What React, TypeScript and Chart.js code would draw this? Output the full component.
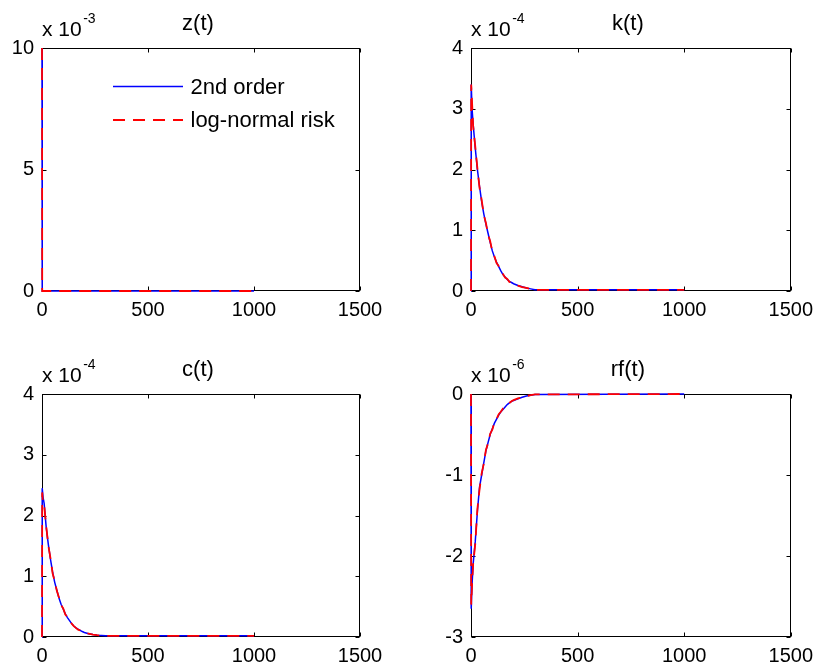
import React, { useEffect, useRef } from "react";
import { Chart, registerables } from "chart.js";

Chart.register(...registerables);

const FAM = '"Liberation Sans", Arial, Helvetica, sans-serif';

// time axis (periods)
const T = [0, 1, 5, 10, 20, 30, 40, 50, 60, 70, 80, 90, 100, 110, 120, 130, 140, 150, 160, 170, 180, 190, 200, 220, 240, 260, 280, 300, 1000];

const SERIES_NAMES = ["2nd order", "log-normal risk"];

// z(t), units of 1e-3
const Z_2ND = [10, 0, 0, 0, 0, 0, 0, 0, 0, 0, 0, 0, 0, 0, 0, 0, 0, 0, 0, 0, 0, 0, 0, 0, 0, 0, 0, 0, 0];
const Z_LOGN = [10, 0, 0, 0, 0, 0, 0, 0, 0, 0, 0, 0, 0, 0, 0, 0, 0, 0, 0, 0, 0, 0, 0, 0, 0, 0, 0, 0, 0];

// k(t), units of 1e-4
const K_2ND = [0, 3.4, 3.0, 2.75, 2.35, 2.0, 1.72, 1.47, 1.27, 1.1, 0.95, 0.8, 0.66, 0.56, 0.47, 0.4, 0.33, 0.27, 0.23, 0.19, 0.16, 0.14, 0.12, 0.09, 0.07, 0.05, 0.035, 0.02, 0.02];
const K_LOGN = [0, 3.4, 3.1, 2.72, 2.38, 2.02, 1.7, 1.5, 1.25, 1.12, 0.93, 0.82, 0.65, 0.57, 0.46, 0.41, 0.32, 0.28, 0.22, 0.2, 0.15, 0.14, 0.11, 0.09, 0.065, 0.05, 0.03, 0.02, 0.02];

// c(t), units of 1e-4
const C_2ND = [0, 2.45, 2.3, 2.2, 1.8, 1.52, 1.28, 1.07, 0.9, 0.77, 0.64, 0.54, 0.46, 0.38, 0.32, 0.27, 0.22, 0.18, 0.15, 0.13, 0.11, 0.09, 0.075, 0.055, 0.04, 0.03, 0.025, 0.02, 0.02];
const C_LOGN = [0, 2.38, 2.2, 2.18, 1.82, 1.5, 1.3, 1.05, 0.92, 0.76, 0.65, 0.53, 0.47, 0.37, 0.33, 0.26, 0.22, 0.18, 0.15, 0.12, 0.11, 0.09, 0.07, 0.055, 0.04, 0.03, 0.025, 0.02, 0.02];

// rf(t), units of 1e-6
const RF_2ND = [0, -2.65, -2.35, -2.1, -1.82, -1.45, -1.15, -1.0, -0.85, -0.7, -0.6, -0.5, -0.43, -0.36, -0.31, -0.26, -0.22, -0.19, -0.16, -0.13, -0.11, -0.09, -0.08, -0.06, -0.04, -0.025, -0.015, -0.005, 0];
const RF_LOGN = [0, -2.6, -2.35, -2.1, -1.85, -1.42, -1.18, -0.98, -0.86, -0.69, -0.61, -0.49, -0.44, -0.35, -0.31, -0.25, -0.22, -0.18, -0.16, -0.13, -0.11, -0.09, -0.075, -0.055, -0.04, -0.025, -0.015, -0.005, 0];

const X_TICKS = [0, 500, 1000, 1500];

type PanelDef = {
  title: string;
  exp: string;
  a: number[];
  b: number[];
  ymin: number;
  ymax: number;
  ystep: number;
  legend: boolean;
  left: number;
  top: number;
  L: number;
  TOP: number;
  R: number;
  B: number;
};

const W = 410;
const H = 336;

const PANELS: PanelDef[] = [
  { title: "z(t)", exp: "-3", a: Z_2ND, b: Z_LOGN, ymin: 0, ymax: 10, ystep: 5, legend: true, left: 0, top: 0, L: 42, TOP: 48, R: 360, B: 291 },
  { title: "k(t)", exp: "-4", a: K_2ND, b: K_LOGN, ymin: 0, ymax: 4, ystep: 1, legend: false, left: 410, top: 0, L: 61, TOP: 48, R: 381, B: 291 },
  { title: "c(t)", exp: "-4", a: C_2ND, b: C_LOGN, ymin: 0, ymax: 4, ystep: 1, legend: false, left: 0, top: 336, L: 42, TOP: 58, R: 360, B: 301 },
  { title: "rf(t)", exp: "-6", a: RF_2ND, b: RF_LOGN, ymin: -3, ymax: 0, ystep: 1, legend: false, left: 410, top: 336, L: 61, TOP: 58, R: 381, B: 301 },
];

const RED_DASH = [12, 8];

const matlabPlugin = {
  id: "matlab",
  beforeDatasetsDraw(chart: any) {
    const { ctx, chartArea: a, scales } = chart;
    ctx.save();
    ctx.strokeStyle = "#000";
    ctx.lineWidth = 1;
    const l = Math.round(a.left) + 0.5;
    const r = Math.round(a.right) - 0.5;
    const t = Math.round(a.top) + 0.5;
    const b = Math.round(a.bottom) - 0.5;
    ctx.strokeRect(l, t, r - l, b - t);
    const tl = 4;
    ctx.beginPath();
    scales.x.ticks.forEach((tk: any) => {
      const px = Math.round(scales.x.getPixelForValue(tk.value)) + 0.5;
      ctx.moveTo(px, b);
      ctx.lineTo(px, b - tl);
      ctx.moveTo(px, t);
      ctx.lineTo(px, t + tl);
    });
    scales.y.ticks.forEach((tk: any) => {
      const py = Math.round(scales.y.getPixelForValue(tk.value)) + 0.5;
      ctx.moveTo(l, py);
      ctx.lineTo(l + tl, py);
      ctx.moveTo(r, py);
      ctx.lineTo(r - tl, py);
    });
    ctx.stroke();
    ctx.restore();
  },
  afterDraw(chart: any, _args: any, o: any) {
    const { ctx, chartArea: a } = chart;
    ctx.save();
    ctx.fillStyle = "#000";
    ctx.textBaseline = "alphabetic";
    ctx.font = `22px ${FAM}`;
    ctx.textAlign = "center";
    ctx.fillText(o.title, (a.left + a.right) / 2 - 3, a.top - 18.5);
    ctx.textAlign = "left";
    ctx.font = `21px ${FAM}`;
    const base = "x 10";
    ctx.fillText(base, a.left, a.top - 12);
    const w = ctx.measureText(base).width;
    ctx.font = `14px ${FAM}`;
    ctx.fillText(o.exp, a.left + w + 1.5, a.top - 25);
    if (o.legend) {
      const ds = chart.data.datasets;
      const rows = [a.top + 38.5, a.top + 72];
      ds.forEach((d: any, i: number) => {
        const y = rows[i];
        ctx.save();
        ctx.strokeStyle = d.borderColor;
        ctx.lineWidth = d.borderWidth;
        ctx.setLineDash(d.borderDash || []);
        ctx.beginPath();
        ctx.moveTo(a.left + 71, y);
        ctx.lineTo(a.left + 141, y);
        ctx.stroke();
        ctx.restore();
        ctx.font = `22px ${FAM}`;
        ctx.textBaseline = "middle";
        ctx.textAlign = "left";
        ctx.fillStyle = "#000";
        ctx.fillText(d.label, a.left + 148.5, y + 1);
      });
    }
    ctx.restore();
  },
};

function makeConfig(p: PanelDef): any {
  const pts = (vals: number[]) => T.map((t, i) => ({ x: t, y: vals[i] }));
  return {
    type: "line",
    data: {
      datasets: [
        {
          label: SERIES_NAMES[0],
          data: pts(p.a),
          borderColor: "#0000ff",
          borderWidth: 1.5,
          pointRadius: 0,
          tension: 0,
          fill: false,
          clip: false,
          order: 1,
        },
        {
          label: SERIES_NAMES[1],
          data: pts(p.b),
          borderColor: "#ff0000",
          borderWidth: 1.8,
          borderDash: RED_DASH,
          pointRadius: 0,
          tension: 0,
          fill: false,
          clip: false,
          order: 0,
        },
      ],
    },
    options: {
      responsive: false,
      animation: false,
      devicePixelRatio: 1,
      layout: { padding: { left: 0, top: p.TOP, right: W - p.R, bottom: 0 } },
      plugins: {
        legend: { display: false },
        tooltip: { enabled: false },
        title: { display: false },
        matlab: { title: p.title, exp: p.exp, legend: p.legend },
      },
      scales: {
        x: {
          type: "linear",
          min: 0,
          max: 1500,
          afterBuildTicks: (s: any) => {
            s.ticks = X_TICKS.map((v) => ({ value: v }));
          },
          ticks: {
            font: { size: 20, family: FAM },
            color: "#000",
            padding: 7,
            maxRotation: 0,
            autoSkip: false,
            callback: (v: any) => String(v),
          },
          grid: { display: false, drawTicks: false },
          border: { display: false },
          afterFit: (s: any) => {
            s.height = H - p.B;
          },
        },
        y: {
          type: "linear",
          min: p.ymin,
          max: p.ymax,
          ticks: {
            stepSize: p.ystep,
            font: { size: 20, family: FAM },
            color: "#000",
            padding: 8,
            callback: (v: any) => String(v),
          },
          grid: { display: false, drawTicks: false },
          border: { display: false },
          afterFit: (s: any) => {
            s.width = p.L;
          },
        },
      },
    },
    plugins: [matlabPlugin],
  };
}

function Panel({ p }: { p: PanelDef }) {
  const ref = useRef<HTMLCanvasElement>(null);
  useEffect(() => {
    const chart = new Chart(ref.current as HTMLCanvasElement, makeConfig(p));
    return () => chart.destroy();
  }, []);
  return (
    <canvas
      ref={ref}
      width={W}
      height={H}
      style={{ position: "absolute", left: p.left, top: p.top, width: W, height: H, display: "block" }}
    />
  );
}

export default function App() {
  return (
    <div style={{ position: "absolute", left: 0, top: 0, width: 820, height: 672, background: "#fff" }}>
      {PANELS.map((p) => (
        <Panel key={p.title} p={p} />
      ))}
    </div>
  );
}
